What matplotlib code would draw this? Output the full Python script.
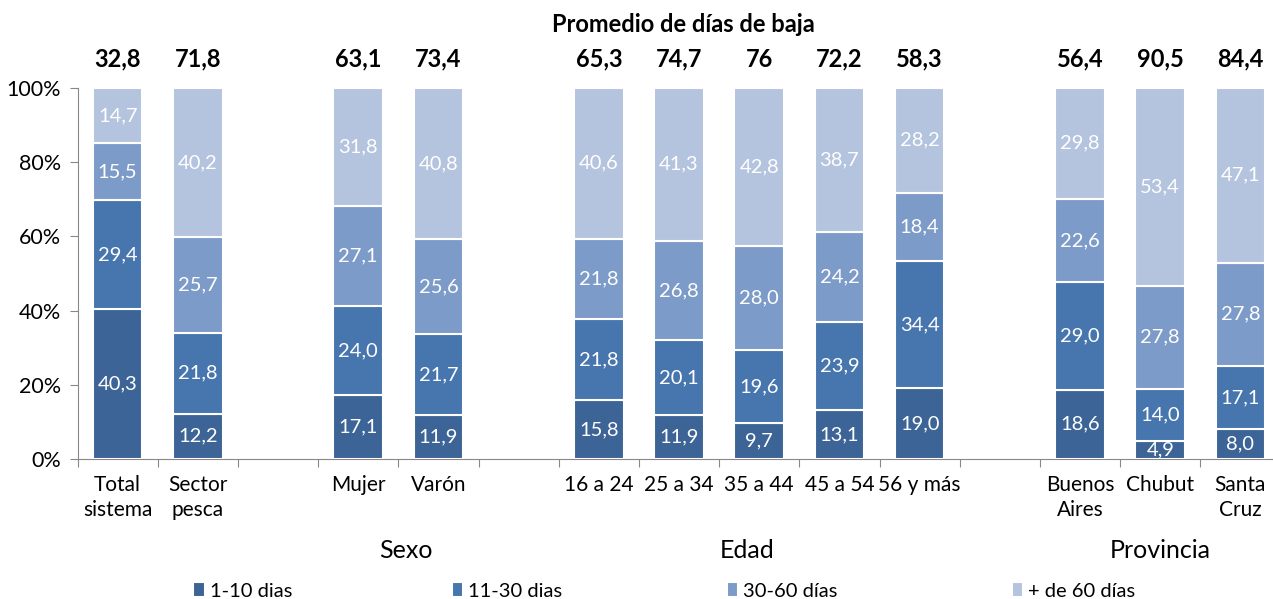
import numpy as np
import matplotlib.pyplot as plt

plt.rcParams['font.family'] = ['Lato', 'DejaVu Sans']

labels = ["Total\nsistema", "Sector\npesca", "Mujer", "Varón", "16 a 24", "25 a 34",
          "35 a 44", "45 a 54", "56 y más", "Buenos\nAires", "Chubut", "Santa\nCruz"]
slots = [0, 1, 3, 4, 6, 7, 8, 9, 10, 12, 13, 14]
d1_10 = [40.3, 12.2, 17.1, 11.9, 15.8, 11.9, 9.7, 13.1, 19.0, 18.6, 4.9, 8.0]
d11_30 = [29.4, 21.8, 24.0, 21.7, 21.8, 20.1, 19.6, 23.9, 34.4, 29.0, 14.0, 17.1]
d30_60 = [15.5, 25.7, 27.1, 25.6, 21.8, 26.8, 28.0, 24.2, 18.4, 22.6, 27.8, 27.8]
d60 = [14.7, 40.2, 31.8, 40.8, 40.6, 41.3, 42.8, 38.7, 28.2, 29.8, 53.4, 47.1]
promedio = ["32,8", "71,8", "63,1", "73,4", "65,3", "74,7", "76", "72,2", "58,3", "56,4", "90,5", "84,4"]
series = [("1-10 dias", d1_10), ("11-30 dias", d11_30), ("30-60 días", d30_60), ("+ de 60 días", d60)]
colors = ["#3C6496", "#4775AE", "#7D9BC8", "#B4C3DE"]
groups = [("Sexo", 3.6), ("Edad", 7.85), ("Provincia", 13.0)]
legend_x = [0.152, 0.355, 0.571, 0.795]

fig = plt.figure(figsize=(12.73, 5.99), dpi=100)
ax = fig.add_axes([0.0609, 0.234, 0.945, 0.619])

x = np.array(slots)
bottom = np.zeros(len(x))
handles = []
for (name, vals), c in zip(series, colors):
    vals = np.array(vals)
    h = ax.bar(x, vals, 0.62, bottom=bottom, color=c, edgecolor="white", linewidth=1.5, label=name, zorder=3)
    handles.append(h)
    for xi, b, v in zip(x, bottom, vals):
        ax.text(xi, b + v / 2, f"{v:.1f}".replace(".", ","), ha="center", va="center",
                color="white", fontsize=14.5, zorder=4)
    bottom += vals

for xi, p in zip(x, promedio):
    ax.text(xi, 107.8, p, ha="center", va="center", fontsize=17, fontweight="bold")
ax.text(7.05, 117.2, "Promedio de días de baja", ha="center", va="center", fontsize=17, fontweight="bold")

ax.set_xlim(-0.5, 14.5)
ax.set_ylim(0, 100)
ax.set_yticks(np.arange(0, 101, 20))
ax.set_yticklabels([f"{v}%" for v in range(0, 101, 20)], fontsize=15.5)
ax.set_xticks(np.arange(-0.5, 15, 1))
ax.set_xticklabels([])
ax.tick_params(axis="x", length=6, color="#888888")
ax.tick_params(axis="y", length=6, color="#888888", pad=6)
for xi, lab in zip(x, labels):
    ax.text(xi, -4.3, lab, ha="center", va="top", fontsize=15, linespacing=1.3)
for name, gx in groups:
    ax.text(gx, -24.8, name, ha="center", va="center", fontsize=18)

for s in ["top", "right"]:
    ax.spines[s].set_visible(False)
ax.spines["left"].set_color("#888888")
ax.spines["bottom"].set_color("#888888")

for h, (name, _), lx in zip(handles, series, legend_x):
    leg = fig.legend([h], [name], loc="center left", bbox_to_anchor=(lx, 0.0134), frameon=False,
                     fontsize=14.5, handlelength=0.55, handleheight=0.7, handletextpad=0.25,
                     borderpad=0, borderaxespad=0)

fig.savefig("out.png", dpi=100)
